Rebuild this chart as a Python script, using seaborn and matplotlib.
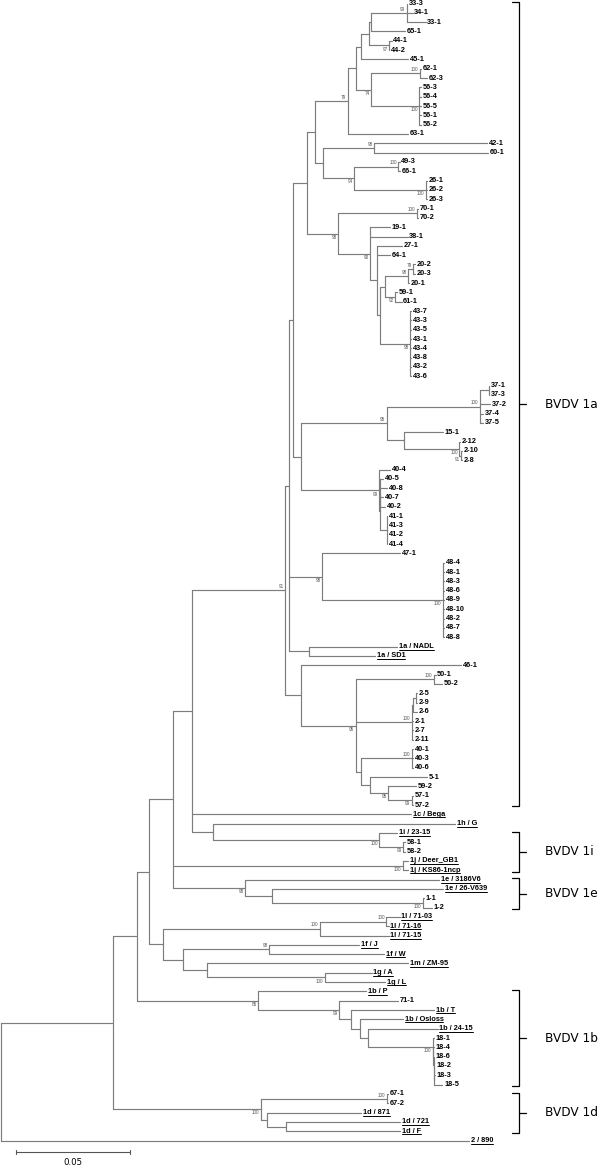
import numpy as np
import pandas as pd
import matplotlib
matplotlib.use("Agg")
import matplotlib.pyplot as plt
import seaborn as sns

# ---------------- data: tree fragments (Newick, branch lengths in substitutions/site,
# internal node labels = bootstrap support %) ----------------
clade_33_45 = "((((33-3:0.0002,34-1:0.0026,33-1:0.0083)99:0.0154,65-1:0.0146):0.0011,(44-1:0.0011,44-2:0.0001)97:0.0088):0.0036,45-1:0.0207)"
clade_62_56 = "((62-1:0.0007,62-3:0.0032)100:0.0212,(56-3:0.0007,56-4:0.0007,56-5:0.0007,56-1:0.0007,56-2:0.0007)100:0.0209)74"
clade_42_26 = "((42-1:0.0496,60-1:0.0500)98:0.0225,((49-3:0.0007,66-1:0.0007)100:0.0194,(26-1:0.0007,26-2:0.0007,26-3:0.0007)100:0.0314)94:0.0137)"
clade_20_43 = "((((20-2:0.0009,20-3:0.0009)79:0.0022,20-1:0.0005)98:0.0102,(59-1:0.0009,61-1:0.0029)92:0.0044):0.0022,(43-7:0.0005,43-3:0.0005,43-5:0.0005,43-1:0.0005,43-4:0.0005,43-8:0.0005,43-2:0.0005,43-6:0.0005)98:0.0132)"
clade_37_2 = "(((37-1:0.0002,37-3:0.0002):0.0039,37-2:0.0044,37-4:0.0013,37-5:0.0013)100:0.0409,(15-1:0.0168,(2-12:0.0004,(2-10:0.0004,2-8:0.0004)91:0.0007)100:0.0241):0.0077)95"
clade_40_41 = "(40-4:0.0048,((40-5:0.0011,40-8:0.0029,40-7:0.0011,40-2:0.0022):0.0002,(41-1:0.0002,41-3:0.0002,41-2:0.0002,41-4:0.0002):0.0029):0.0004)99"
clade_47_48 = "(47-1:0.0341,(48-4:0.0006,48-1:0.0006,48-3:0.0006,48-6:0.0006,48-9:0.0006,48-10:0.0006,48-2:0.0006,48-7:0.0006,48-8:0.0006)100:0.0528)98"
clade_ref_1a = "(1a / NADL:0.0386,1a / SD1:0.0288)"
clade_50_57 = "((50-1:0.0007,50-2:0.0034)100:0.0343,(((2-5:0.0007,2-9:0.0007):0.0011,2-6:0.0016):0.0006,2-1:0.0006,2-7:0.0006,2-11:0.0006)100:0.0246,((40-1:0.0006,40-3:0.0006,40-6:0.0006)100:0.0224,(5-1:0.0249,(59-2:0.0121,(57-1:0.0006,57-2:0.0006)99:0.0103)95:0.0080):0.0041):0.0022)95"
clade_1i = "(1h / G:0.1060,(1i / 23-15:0.0078,(58-1:0.0007,58-2:0.0007)99:0.0105)100:0.0728)"
clade_1j = "(1j / Deer_GB1:0.0024,1j / KS86-1ncp:0.0024)100"
clade_1e = "(1e / 3186V6:0.0851,(1e / 26-V639:0.0749,(1-1:0.0007,1-2:0.0039)100:0.0660):0.0120)98"
clade_1l_1g = "(((1l / 71-03:0.0058,1l / 71-16:0.0010)100:0.0293,1l / 71-15:0.0303)100:0.0687,((1f / J:0.0396,1f / W:0.0504)98:0.0376,(1m / ZM-95:0.0882,(1g / A:0.0205,1g / L:0.0263)100:0.0516):0.0105):0.0090)"
clade_18 = "(18-1:0.0003,(18-4:0.0003,(18-6:0.0003,(18-2:0.0003,(18-3:0.0003,18-5:0.0037):0.0001):0.0001):0.0001):0.0001)100"
clade_1d = "((67-1:0.0007,67-2:0.0007)100:0.0553,(1d / 871:0.0414,(1d / 721:0.0500,1d / F:0.0500):0.0085):0.0026)100"

upper_79 = f"(({clade_33_45}:0.0019,{clade_62_56}:0.0066):0.0039,63-1:0.0266)79"
clade_19_43 = f"((70-1:0.0007,70-2:0.0007)100:0.0344,(19-1:0.0088,38-1:0.0165,(27-1:0.0110,64-1:0.0058,{clade_20_43}:0.0014):0.0029)90:0.0139)98"
clade_top = f"(({upper_79}:0.0143,{clade_42_26}:0.0034):0.0036,{clade_19_43}:0.0139)"
bvdv_1a = (f"((({clade_top}:0.0061,({clade_37_2}:0.0376,{clade_40_41}:0.0342):0.0036):0.0015,"
           f"{clade_47_48}:0.0145,{clade_ref_1a}:0.0088):0.0019,(46-1:0.0703,{clade_50_57}:0.0241):0.0069)91")
clade_1b = f"(1b / P:0.0472,(71-1:0.0257,(1b / T:0.0364,(1b / Osloss:0.0189,(1b / 24-15:0.0306,{clade_18}:0.0285):0.0036):0.0039):0.0051)99:0.0355)85"
tree_newick = (f"(((((({bvdv_1a}:0.0409,1c / Bega:0.0962,{clade_1i}:0.0095):0.0081,{clade_1j}:0.1006,"
               f"{clade_1e}:0.0314):0.0105,{clade_1l_1g}:0.0059):0.0053,{clade_1b}:0.0531):0.0108,"
               f"{clade_1d}:0.0649):0.0490,2 / 890:0.2053);")

bracket_names = ["BVDV 1a", "BVDV 1i", "BVDV 1e", "BVDV 1b", "BVDV 1d"]
bracket_first = ["33-3", "1i / 23-15", "1e / 3186V6", "1b / P", "67-1"]
bracket_last = ["57-2", "1j / KS86-1ncp", "1-2", "18-5", "1d / F"]
scale_value = 0.05
scale_label = "0.05"


# ---------------- parse and lay out ----------------
def parse_newick(s):
    pos = 0

    def node():
        nonlocal pos
        n = {"children": [], "name": "", "len": 0.0}
        if s[pos] == "(":
            pos += 1
            while True:
                n["children"].append(node())
                if s[pos] == ",":
                    pos += 1
                    continue
                if s[pos] == ")":
                    pos += 1
                    break
        start = pos
        while s[pos] not in ",():;":
            pos += 1
        n["name"] = s[start:pos].strip()
        if s[pos] == ":":
            pos += 1
            start = pos
            while s[pos] not in ",();":
                pos += 1
            n["len"] = float(s[start:pos])
        return n

    return node()


root = parse_newick(tree_newick)
leaves = []


def layout(n, depth, parent=None):
    n["x"] = depth
    n["parent"] = parent
    if not n["children"]:
        n["y"] = float(len(leaves))
        leaves.append(n)
    else:
        for c in n["children"]:
            layout(c, depth + c["len"], n)
        n["y"] = 0.5 * (n["children"][0]["y"] + n["children"][-1]["y"])


layout(root, 0.0)
leaf_y = {l["name"]: l["y"] for l in leaves}

segs = []
internal = []


def collect(n):
    if n["children"]:
        internal.append(n)
        sid = len(segs)
        segs.append((n["x"], n["children"][0]["y"], n["x"], n["children"][-1]["y"]))
        for c in n["children"]:
            segs.append((n["x"], c["y"], c["x"], c["y"]))
            collect(c)


collect(root)
rows = []
for i, (xa, ya, xb, yb) in enumerate(segs):
    rows.append({"x": xa, "y": ya, "seg": i})
    rows.append({"x": xb, "y": yb, "seg": i})
seg_df = pd.DataFrame(rows)

# ---------------- drawing ----------------
sns.set_theme(style="white")
plt.rcParams["font.family"] = ["Liberation Sans", "DejaVu Sans"]

W, H = 600, 1167
fig = plt.figure(figsize=(W / 100, H / 100), dpi=100)
ax = fig.add_axes([0, 0, 1, 1])
PX = 2280.0          # pixels per substitution/site  (0.05 -> 114 px)
ROW = 9.32           # pixels per leaf row
TOP = 3.5
ax.set_xlim(-1 / PX, (W - 1) / PX)
ax.set_ylim((H - TOP) / ROW, -TOP / ROW)
ax.axis("off")

sns.lineplot(data=seg_df, x="x", y="y", units="seg", estimator=None, sort=False,
             color="#7d7d7d", linewidth=0.85, legend=False, ax=ax)
ax.set_xlim(-1 / PX, (W - 1) / PX)
ax.set_ylim((H - TOP) / ROW, -TOP / ROW)
ax.axis("off")

PT = 72 / 100.0  # points per pixel
underlined = []
for l in leaves:
    t = ax.annotate(l["name"], (l["x"], l["y"]), xytext=(1.6 * PT, 0), textcoords="offset points",
                    ha="left", va="center", fontsize=5.3, fontweight="bold", color="black",
                    family=["Liberation Sans", "DejaVu Sans"])
    if "/" in l["name"]:
        underlined.append(t)

for n in internal:
    if n["name"] and n["parent"] is not None:
        dy = -3.6 if n["y"] < n["parent"]["y"] else 3.6
        ax.annotate(n["name"], (n["x"], n["y"]), xytext=(-1.4 * PT, -dy * PT), textcoords="offset points",
                    ha="right", va="center", fontsize=3.3, color="#555555")

# clade brackets
bx = 518 / PX
hook = 7 / PX
for name, a, b in zip(bracket_names, bracket_first, bracket_last):
    ya, yb = leaf_y[a] - 0.15, leaf_y[b] + 0.15
    ym = 0.5 * (ya + yb)
    ax.plot([bx - hook, bx, bx, bx - hook], [ya, ya, yb, yb], color="black", lw=0.9)
    ax.plot([bx, bx + hook], [ym, ym], color="black", lw=0.9)
    ax.text(544 / PX, ym, name, ha="left", va="center", fontsize=8.7, family="DejaVu Sans", color="black")

# scale bar
sx0 = 15 / PX
sy = (1152 - TOP) / ROW
ax.plot([sx0, sx0 + scale_value], [sy, sy], color="#555555", lw=0.8)
for xx in (sx0, sx0 + scale_value):
    ax.plot([xx, xx], [sy - 0.2, sy + 0.2], color="#555555", lw=0.8)
ax.text(sx0 + scale_value / 2, sy + 1.15, scale_label, ha="center", va="center", fontsize=6.2,
        family="DejaVu Sans", color="black")

# underline reference strains
fig.canvas.draw()
renderer = fig.canvas.get_renderer()
inv = ax.transData.inverted()
for t in underlined:
    bb = t.get_window_extent(renderer)
    (x0, yl), (x1, _) = inv.transform([(bb.x0, bb.y0 + 0.4), (bb.x1, bb.y0 + 0.4)])
    ax.plot([x0, x1], [yl, yl], color="black", lw=0.7)

fig.savefig("out.png", dpi=100, facecolor="white")
